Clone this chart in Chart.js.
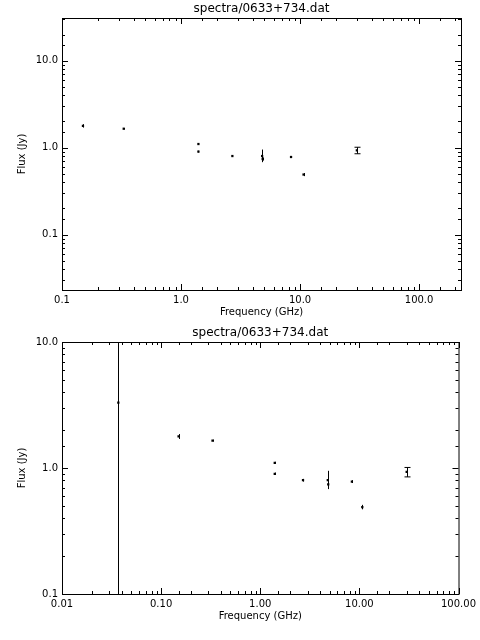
<!DOCTYPE html>
<html><head>
<script src="https://cdn.jsdelivr.net/npm/chart.js@4"></script>
<style>body{margin:0;background:#fff}div{position:absolute;left:0;width:480px;height:320px}</style>
</head><body>
<div style="top:0"><canvas id="c1"></canvas></div>
<div style="top:320px"><canvas id="c2"></canvas></div>
<script>
// spectrum of 0633+734
const freq   = [0.15, 0.33, 1.4, 1.4, 2.7, 4.8, 4.85, 8.4, 10.7, 30];
const flux   = [1.78, 1.65, 1.1, 0.9, 0.8, 0.8, 0.74, 0.78, 0.49, 0.93];
const fluxLo = [1.7, 1.62, 1.08, 0.88, 0.78, 0.68, 0.71, 0.76, 0.47, 0.85];
const fluxHi = [1.86, 1.68, 1.12, 0.92, 0.82, 0.95, 0.77, 0.8, 0.51, 1.01];
// extra low-frequency point only in lower panel
const freq2 = [0.037], flux2 = [3.3], fluxLo2 = [0.01], fluxHi2 = [100];

const title = 'spectra/0633+734.dat';

const idlPlugin = {
  id: 'idl',
  afterDatasetsDraw(chart) {
    const c = chart.ctx, a = chart.chartArea, x = chart.scales.x, y = chart.scales.y;
    c.save();
    c.strokeStyle = '#000'; c.lineWidth = 1;
    // error bars
    chart.data.datasets.forEach(ds => {
      ds.data.forEach(p => {
        const px = Math.round(x.getPixelForValue(p.x)) + 0.5;
        const yb = Math.min(a.bottom, y.getPixelForValue(p.lo)), yt = Math.max(a.top, y.getPixelForValue(p.hi));
        c.beginPath(); c.moveTo(px, yb); c.lineTo(px, yt);
        const r = p.hi / p.lo;
        if (r > 1.15 && r < 1.3) {
          c.moveTo(px - 3, yb); c.lineTo(px + 3, yb); c.moveTo(px - 3, yt); c.lineTo(px + 3, yt);
        }
        c.stroke();
      });
    });
    // box and inward ticks
    c.strokeRect(a.left + 0.5, a.top + 0.5, a.right - a.left, a.bottom - a.top);
    const major = v => Math.abs(Math.log10(v) - Math.round(Math.log10(v))) < 1e-6;
    c.beginPath();
    x.ticks.forEach(t => {
      const px = Math.round(x.getPixelForValue(t.value)) + 0.5, l = major(t.value) ? 6 : 3;
      c.moveTo(px, a.bottom); c.lineTo(px, a.bottom - l);
      c.moveTo(px, a.top); c.lineTo(px, a.top + l);
    });
    y.ticks.forEach(t => {
      const py = Math.round(y.getPixelForValue(t.value)) + 0.5, l = major(t.value) ? 6 : 3;
      c.moveTo(a.left, py); c.lineTo(a.left + l, py);
      c.moveTo(a.right, py); c.lineTo(a.right - l, py);
    });
    c.stroke();
    c.fillStyle = '#000'; c.font = '12px DejaVu Sans'; c.textAlign = 'center'; c.textBaseline = 'bottom';
    c.fillText(title, (a.left + a.right) / 2, a.top - 3);
    c.font = '10px DejaVu Sans'; c.textBaseline = 'middle';
    c.fillText('Frequency (GHz)', (a.left + a.right) / 2, a.bottom + 22);
    c.translate(22, (a.top + a.bottom) / 2); c.rotate(-Math.PI / 2);
    c.fillText('Flux (Jy)', 0, 0);
    c.restore();
  }
};

function makeChart(id, xs, ys, lo, hi, xmin, xmax, ymin, ymax, dec, top, bottom) {
  const pts = xs.map((v, i) => ({x: v, y: ys[i], lo: lo[i], hi: hi[i]}));
  const lab = (v, d) => {
    const l = Math.log10(v);
    return Math.abs(l - Math.round(l)) < 1e-6 ? Number(v).toFixed(d) : '';
  };
  const tf = {family: 'DejaVu Sans', size: 10};
  new Chart(document.getElementById(id), {
    type: 'scatter',
    data: {datasets: [{data: pts, pointStyle: 'rect', pointRadius: 1.6, backgroundColor: '#000', borderColor: '#000', borderWidth: 0}]},
    options: {
      responsive: true, maintainAspectRatio: false, animation: false,
      layout: {padding: {top: top, right: 19, left: 0, bottom: 0}},
      plugins: {legend: {display: false}, tooltip: {enabled: false}},
      scales: {
        x: {type: 'logarithmic', min: xmin, max: xmax,
            grid: {display: false, tickLength: 0}, border: {display: false},
            ticks: {autoSkip: false, maxRotation: 0, color: '#000', font: tf, padding: 4, callback: v => lab(v, Math.max(dec, 1))},
            afterFit: s => { s.height = bottom; }},
        y: {type: 'logarithmic', min: ymin, max: ymax,
            grid: {display: false, tickLength: 0}, border: {display: false},
            ticks: {autoSkip: false, color: '#000', font: tf, padding: 4, callback: v => lab(v, 1)},
            afterFit: s => { s.width = 62; }}
      }
    },
    plugins: [idlPlugin]
  });
}

makeChart('c1', freq, flux, fluxLo, fluxHi, 0.1, 225, 0.023, 31, 1, 18, 30);
makeChart('c2', freq2.concat(freq), flux2.concat(flux), fluxLo2.concat(fluxLo), fluxHi2.concat(fluxHi), 0.01, 100, 0.1, 10, 2, 22, 46);
</script>
</body></html>
